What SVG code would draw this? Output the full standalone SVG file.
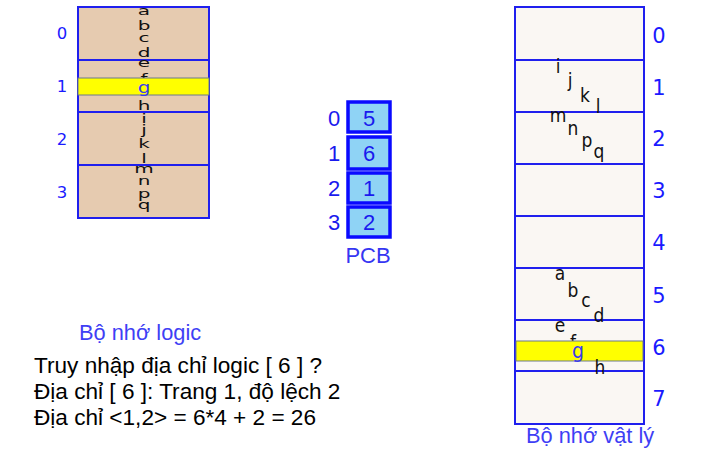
<svg xmlns="http://www.w3.org/2000/svg" width="724" height="468" viewBox="0 0 724 468">
<style>
.lm{fill:#e6cbb0;stroke:#1f1fee;stroke-width:2}
.pm{fill:#faf7f3;stroke:#1f1fee;stroke-width:2}
.hl{fill:#ffff00;stroke:#6d7a8a;stroke-width:1}
.pcb{fill:#8fd3f5;stroke:#0a0aff;stroke-width:3.5}
.lc{font-family:"DejaVu Sans",sans-serif;font-size:12.5px;fill:#111;text-anchor:middle}
.ch{font-family:"DejaVu Sans Condensed","DejaVu Sans",sans-serif;font-size:19px;fill:#111;text-anchor:middle}
.chb{font-family:"DejaVu Sans Condensed","DejaVu Sans",sans-serif;font-size:21px;fill:#3a3af0;text-anchor:middle}
.num{font-family:"DejaVu Sans",sans-serif;font-size:16.5px;fill:#1a1aff;text-anchor:middle}
.rnum{font-family:"DejaVu Sans",sans-serif;font-size:21px;fill:#1a1aff;text-anchor:middle}
.pn{font-family:"Liberation Sans",Arial,sans-serif;font-size:22px;fill:#1a1aee;text-anchor:middle}
.cap{font-family:"Liberation Sans",Arial,sans-serif;font-size:21.8px;fill:#3f3ff5}
.txt{font-family:"Liberation Sans",Arial,sans-serif;font-size:22.6px;fill:#000}
</style>
<rect width="724" height="468" fill="#ffffff"/>
<g id="logical-memory">
<rect class="lm" x="78" y="7" width="131" height="53"/>
<rect class="lm" x="78" y="60" width="131" height="52"/>
<rect class="lm" x="78" y="112" width="131" height="53"/>
<rect class="lm" x="78" y="165" width="131" height="53"/>
<text class="num" x="62" y="39">0</text>
<text class="num" x="62" y="92">1</text>
<text class="num" x="62" y="145">2</text>
<text class="num" x="62" y="198">3</text>
<g transform="translate(144 0) scale(1.6 1)">
<text class="lc" x="0" y="15">a</text>
<text class="lc" x="0" y="30">b</text>
<text class="lc" x="0" y="42">c</text>
<text class="lc" x="0" y="57">d</text>
<text class="lc" x="0" y="67">e</text>
<text class="lc" x="0" y="83">f</text>
</g>
<rect class="hl" x="78" y="78" width="131" height="17"/>
<text class="chb" x="144" y="93" transform="translate(144 0) scale(1.25 1) translate(-144 0)" style="font-size:16px;font-family:'DejaVu Sans',sans-serif">g</text>
<g transform="translate(144 0) scale(1.6 1)">
<text class="lc" x="0" y="110">h</text>
<text class="lc" x="0" y="123">i</text>
<text class="lc" x="0" y="134">j</text>
<text class="lc" x="0" y="148">k</text>
<text class="lc" x="0" y="163">l</text>
<text class="lc" x="0" y="173">m</text>
<text class="lc" x="0" y="185">n</text>
<text class="lc" x="0" y="198">p</text>
<text class="lc" x="0" y="209">q</text>
</g>
<text class="cap" x="79" y="340">Bộ nhớ logic</text>
</g>
<g id="pcb">
<rect class="pcb" x="348" y="102" width="42" height="30"/>
<rect class="pcb" x="348" y="137" width="42" height="32"/>
<rect class="pcb" x="348" y="173" width="42" height="30"/>
<rect class="pcb" x="348" y="207" width="42" height="30"/>
<text class="pn" x="369" y="126">5</text>
<text class="pn" x="369" y="161">6</text>
<text class="pn" x="369" y="196">1</text>
<text class="pn" x="369" y="230">2</text>
<text class="pn" x="334" y="126">0</text>
<text class="pn" x="334" y="161">1</text>
<text class="pn" x="334" y="196">2</text>
<text class="pn" x="334" y="230">3</text>
<text class="pn" x="368" y="263" style="fill:#3636f2">PCB</text>
</g>
<g id="physical-memory">
<rect class="pm" x="515" y="7" width="129" height="53"/>
<rect class="pm" x="515" y="60" width="129" height="52"/>
<rect class="pm" x="515" y="112" width="129" height="52"/>
<rect class="pm" x="515" y="164" width="129" height="52"/>
<rect class="pm" x="515" y="216" width="129" height="52"/>
<rect class="pm" x="515" y="268" width="129" height="52"/>
<rect class="pm" x="515" y="320" width="129" height="51"/>
<rect class="pm" x="515" y="371" width="129" height="53"/>
<text class="rnum" x="659" y="43">0</text>
<text class="rnum" x="659" y="95">1</text>
<text class="rnum" x="659" y="146">2</text>
<text class="rnum" x="659" y="198">3</text>
<text class="rnum" x="659" y="250">4</text>
<text class="rnum" x="659" y="303">5</text>
<text class="rnum" x="659" y="355">6</text>
<text class="rnum" x="659" y="406">7</text>
<text class="ch" x="558" y="73">i</text>
<text class="ch" x="570" y="87">j</text>
<text class="ch" x="585" y="102">k</text>
<text class="ch" x="598" y="113">l</text>
<text class="ch" x="558" y="122">m</text>
<text class="ch" x="573" y="135">n</text>
<text class="ch" x="587" y="147">p</text>
<text class="ch" x="599" y="158">q</text>
<text class="ch" x="560" y="280">a</text>
<text class="ch" x="573" y="297">b</text>
<text class="ch" x="586" y="307">c</text>
<text class="ch" x="599" y="322">d</text>
<text class="ch" x="560" y="332">e</text>
<text class="ch" x="573" y="349">f</text>
<rect class="hl" x="516" y="341" width="127" height="20"/>
<text class="chb" x="578" y="358">g</text>
<text class="ch" x="600" y="374">h</text>
<text class="cap" x="526" y="443">Bộ nhớ vật lý</text>
</g>
<g id="connectors"/>
<g id="notes">
<text class="txt" x="34" y="373">Truy nhập địa chỉ logic [ 6 ] ?</text>
<text class="txt" x="34" y="399">Địa chỉ [ 6 ]: Trang 1, độ lệch 2</text>
<text class="txt" x="34" y="425">Địa chỉ &lt;1,2&gt; = 6*4 + 2 = 26</text>
</g>
</svg>
